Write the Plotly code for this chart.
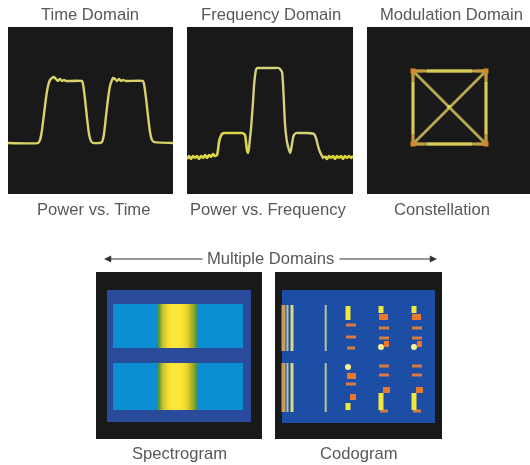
import plotly.graph_objects as go

W, H = 530, 465
FONT = "Liberation Sans"
INK = "#585858"
PANEL = "#191919"

# Panel extents on the page
panels = {
    "time": (8, 173, 27, 194),
    "freq": (187, 353, 27, 194),
    "mod": (367, 530, 27, 194),
    "spec": (96, 262, 272, 439),
    "codo": (275, 442, 272, 439),
}

# Power vs. Time
time_x = [0, 30, 32, 34, 36, 38, 40, 42, 44, 46, 48, 50, 52, 54, 56, 58, 60, 74, 75, 77, 79, 81, 83, 85, 92, 94, 96, 98, 100, 102,
          104, 105, 107, 109, 111, 113, 115, 118, 135, 136, 138, 140, 142, 144, 146, 165]
time_y = [51, 51, 54, 64, 80, 96, 108, 114, 116, 117, 115, 113, 115, 113, 114, 113, 113, 113, 110, 95, 76, 60, 53, 51, 51, 52, 60, 78, 95, 108,
          114, 116, 115, 113, 115, 113, 114, 113, 113, 110, 96, 78, 62, 54, 52, 51]

# Power vs. Frequency
freq_x = [0, 2, 4, 6, 8, 10, 12, 14, 16, 18, 20, 22, 24, 26, 28, 30, 31, 32, 33, 35, 37, 40, 45, 50, 55, 58, 59, 60, 61, 62, 64, 66, 67, 68, 69, 70, 72, 76,
          85, 92, 95, 96, 97, 98, 100, 102, 103, 104, 105, 106, 107, 109, 112, 120, 127, 129, 131, 133, 135, 136, 138,
          140, 142, 144, 146, 148, 150, 152, 154, 156, 158, 160, 162, 164, 166]
freq_y = [35, 38, 35, 38, 36, 38, 35, 38, 36, 39, 36, 39, 37, 40, 38, 39, 44, 52, 56, 60, 61, 61, 61, 61, 61, 59, 52, 44, 41, 46, 65, 92, 108, 118, 124, 126, 126, 126,
          126, 126, 122, 110, 90, 70, 52, 44, 41, 44, 50, 56, 59, 61, 61, 61, 60, 56, 48, 42, 38, 36, 38,
          35, 38, 36, 38, 35, 38, 36, 38, 35, 38, 36, 38, 36, 38]

# Constellation
square_x = [46, 119, 119, 46, 46, None, 46, 119, None, 46, 119]
square_y = [123, 123, 50, 50, 123, None, 123, 50, None, 50, 123]
corner_x = [46, 119, 119, 46]
corner_y = [123, 123, 50, 50]
side_mid_x = [46, 46, None, 119, 119, None, 60, 105, None, 60, 105]
side_mid_y = [60, 112, None, 60, 112, None, 123, 123, None, 50, 50]
corner_arm_x = [46, 56, None, 46, 46, None, 119, 109, None, 119, 119, None, 119, 109, None, 119, 119, None, 46, 56, None, 46, 46]
corner_arm_y = [123, 123, None, 123, 113, None, 123, 123, None, 123, 113, None, 50, 50, None, 50, 60, None, 50, 50, None, 50, 60]
centre_x = [82]
centre_y = [87]

# Spectrogram (x and y are cell edges, z is signal level)
spec_x = [11, 17, 61, 62, 63, 64, 65, 66, 67, 69, 71, 73, 75, 77, 84, 87, 89, 91, 93, 95, 97, 99, 100, 101, 102, 147, 155]
spec_y = [18, 32, 76, 91, 138, 150]
spec_band = [0, 0.22, 0.3, 0.36, 0.42, 0.5, 0.58, 0.66, 0.74, 0.82, 0.9, 0.96, 1.0, 1.0, 0.97, 0.92, 0.86, 0.78, 0.68, 0.58, 0.48, 0.4, 0.34, 0.3, 0.22, 0]
spec_gap = [0] * 26
spec_z = [spec_gap, spec_band, spec_gap, spec_band, spec_gap]

# Codogram
codo_back_x = [7, 160]
codo_back_y = [18, 151]
tan_x = [8.5, 8.5, None, 8.5, 8.5]
tan_y = [33, 79, None, 91, 140]
pale_x = [12.5, 12.5, None, 12.5, 12.5, None, 50.7, 50.7, None, 50.7, 50.7]
pale_y = [33, 79, None, 91, 140, None, 33, 79, None, 91, 140]
straw_x = [17, 17, None, 17, 17]
straw_y = [33, 79, None, 91, 140]
dash_x = [71, 81, None, 71, 81, None, 72, 80, None, 71, 81, None, 105, 113, None, 138, 146, None,
          104, 114, None, 104, 114, None, 137, 147, None, 137, 147, None,
          104, 114, None, 104, 114, None, 137, 147, None, 137, 147]
dash_y = [53, 53, None, 65, 65, None, 76, 76, None, 112, 112, None, 139, 139, None, 139, 139, None,
          56, 56, None, 66, 66, None, 56, 56, None, 66, 66, None,
          94, 94, None, 103, 103, None, 94, 94, None, 103, 103]
blob_x = [104, 113, None, 137, 146, None, 109, 114, None, 142, 147, None, 72, 81, None, 75, 81, None, 108, 115, None, 141, 148]
blob_y = [45, 45, None, 45, 45, None, 72, 72, None, 72, 72, None, 104, 104, None, 125, 125, None, 118, 118, None, 118, 118]
yellow_x = [73, 73, None, 106, 106, None, 139, 139, None, 73, 73, None, 106, 106, None, 139, 139]
yellow_y = [34, 48, None, 34, 41, None, 34, 41, None, 131, 138, None, 121, 138, None, 121, 138]
spot_x = [106, 139, 73]
spot_y = [75, 75, 95]

titles = [(90, 14, "Time Domain"), (271, 14, "Frequency Domain"), (451, 14, "Modulation Domain"),
          (93, 209, "Power vs. Time"), (268, 209, "Power vs. Frequency"), (442, 209, "Constellation"),
          (270, 258, "Multiple Domains")]
captions = [(179, 453, "Spectrogram"), (358, 453, "Codogram")]

fig = go.Figure()
layout = {}
names = list(panels)
for i, key in enumerate(names):
    x0, x1, y0, y1 = panels[key]
    sx = "" if i == 0 else str(i + 1)
    reverse = key in ("spec", "codo")
    layout["xaxis" + sx] = dict(domain=[x0 / W, x1 / W], range=[0, x1 - x0], visible=False, anchor="y" + sx)
    layout["yaxis" + sx] = dict(domain=[1 - y1 / H, 1 - y0 / H], range=[y1 - y0, 0] if reverse else [0, y1 - y0],
                                visible=False, anchor="x" + sx)


def line(x, y, color, width, ax, shape="spline"):
    fig.add_trace(go.Scatter(x=x, y=y, mode="lines", xaxis="x" + ax, yaxis="y" + ax, hoverinfo="skip",
                             line=dict(color=color, width=width, shape=shape, smoothing=0.4), connectgaps=False))


def dots(x, y, color, size, ax, symbol="circle"):
    fig.add_trace(go.Scatter(x=x, y=y, mode="markers", xaxis="x" + ax, yaxis="y" + ax, hoverinfo="skip",
                             marker=dict(color=color, size=size, symbol=symbol)))


# Top traces
line(time_x, time_y, "#d9d26a", 2.4, "")
line(freq_x[:30], freq_y[:30], "#dcd648", 2.6, "2")
line(freq_x[29:61], freq_y[29:61], "#d5d07a", 2.4, "2")
line(freq_x[60:], freq_y[60:], "#dcd83c", 2.6, "2")

# Constellation
line(square_x, square_y, "#b5a652", 2.8, "3", shape="linear")
line(side_mid_x, side_mid_y, "#d6ca58", 2.8, "3", shape="linear")
line(corner_arm_x, corner_arm_y, "#c99a3c", 2.8, "3", shape="linear")
dots(corner_x, corner_y, "#d8862e", 5, "3", "square")
dots(centre_x, centre_y, "#e3dc4a", 4, "3")

# Spectrogram
fig.add_trace(go.Heatmap(x=spec_x, y=spec_y, z=spec_z, zmin=0, zmax=1, showscale=False, xaxis="x4", yaxis="y4",
                         hoverinfo="skip",
                         colorscale=[[0, "#2a4a9c"], [0.22, "#0b8fd2"], [0.3, "#3f8f40"], [0.62, "#b5b52e"],
                                     [0.85, "#ecd52c"], [1, "#fde63a"]]))

# Codogram
fig.add_trace(go.Heatmap(x=codo_back_x, y=codo_back_y, z=[[0]], zmin=0, zmax=1, showscale=False, xaxis="x5", yaxis="y5",
                         hoverinfo="skip", colorscale=[[0, "#1c4ea6"], [1, "#1c4ea6"]]))
line(tan_x, tan_y, "#c99a5e", 4, "5", shape="linear")
line(pale_x, pale_y, "#b9c49a", 2, "5", shape="linear")
line(straw_x, straw_y, "#dcd888", 3, "5", shape="linear")
line(dash_x, dash_y, "#d97a40", 3, "5", shape="linear")
line(blob_x, blob_y, "#e8782a", 6, "5", shape="linear")
line(yellow_x, yellow_y, "#f0e83c", 5, "5", shape="linear")
dots(spot_x, spot_y, "#f8f090", 6, "5")

annotations = []
for x, y, t in titles + captions:
    annotations.append(dict(x=x / W, y=1 - y / H, xref="paper", yref="paper", text=t, showarrow=False,
                            xanchor="center", yanchor="middle", font=dict(family=FONT, size=16.6, color=INK)))
# Span arrows either side of "Multiple Domains"
for tail, head in ((204, 104), (338, 437)):
    annotations.append(dict(x=head / W, y=1 - 259 / H, ax=tail - head, ay=0, xref="paper", yref="paper",
                            axref="pixel", ayref="pixel", text="", showarrow=True, arrowhead=2, arrowsize=1.2,
                            arrowwidth=1.2, arrowcolor="#333333"))

fig.update_layout(width=W, height=H, margin=dict(l=0, r=0, t=0, b=0), paper_bgcolor="white", plot_bgcolor=PANEL,
                  showlegend=False, annotations=annotations, **layout)
fig.write_html("out.html", config={"displayModeBar": False},
               post_script="document.body.style.margin='0';document.body.style.filter='blur(0.6px)';")
